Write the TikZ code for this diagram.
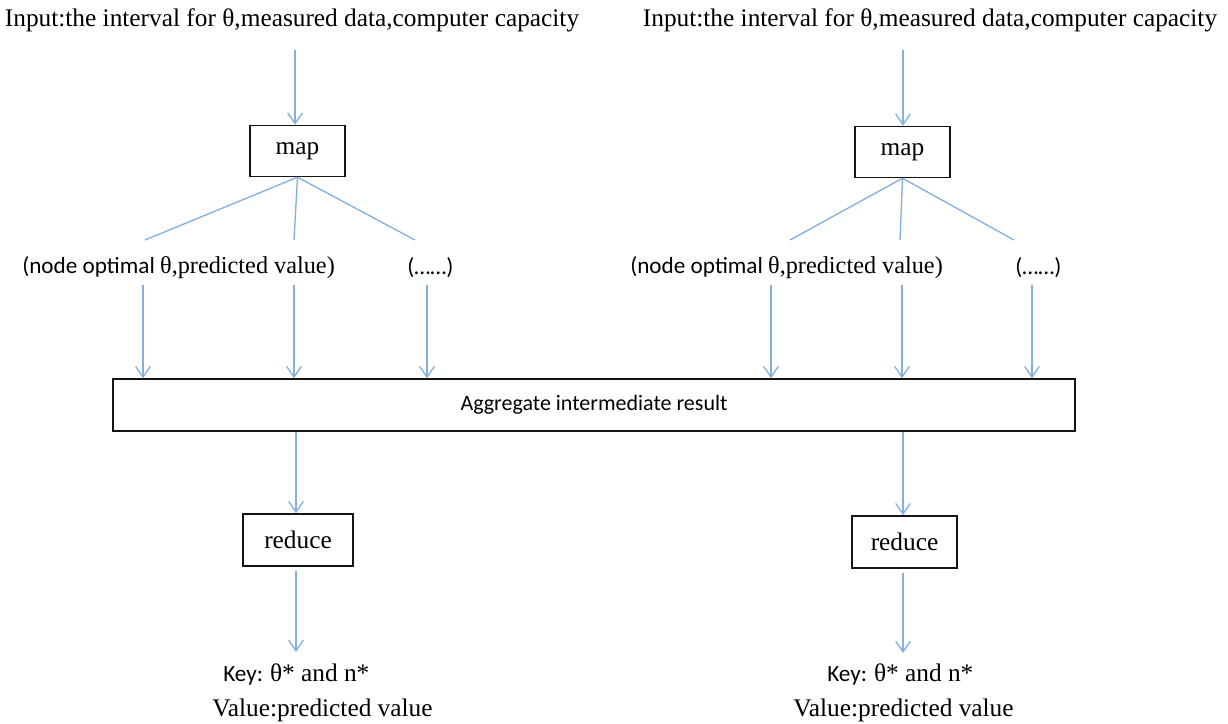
\documentclass[tikz,border=0pt]{standalone}
\usepackage{fontspec}
\setmainfont{Liberation Serif}
\newfontfamily\calfnt{Carlito}
\usetikzlibrary{arrows.meta}
\definecolor{lblue}{RGB}{131,176,222}
\definecolor{boxline}{RGB}{20,20,20}
\newcommand\sanspart{\calfnt\fontsize{17.4}{20}\selectfont}
\newcommand\serifpart{\rmfamily\fontsize{18.2}{21}\selectfont}
\begin{document}
\begin{tikzpicture}[x=0.75pt,y=-0.75pt,
  box/.style={draw=boxline,line width=1.1pt,fill=white,inner sep=0pt,font=\fontsize{19}{22}\selectfont},
  txt/.style={inner sep=0pt,font=\fontsize{19}{22}\selectfont},
  conn/.style={draw=lblue,line width=1pt},
  arr/.style={conn,-{Straight Barb[length=8pt,width=11pt,line width=1pt]}}]
\useasboundingbox (0,0) rectangle (1228,724);
\node[txt] (inL) at (292,20) {Input:the interval for θ,measured data,computer capacity};
\node[txt] (inR) at (930,20) {Input:the interval for θ,measured data,computer capacity};
\node[box,minimum width=71.25pt,minimum height=38.25pt] (mapL) at (297.5,151) {map};
\node[box,minimum width=71.25pt,minimum height=38.25pt] (mapR) at (902.5,152) {map};
\coordinate (inLb) at (295,50);
\coordinate (inRb) at (903,50);
\draw[arr] (inLb) -- (inLb |- mapL.north);
\draw[arr] (inRb) -- (inRb |- mapR.north);
\coordinate (fL1) at (145,240);
\coordinate (fL2) at (294,240);
\coordinate (fL3) at (415,240);
\coordinate (fR1) at (790,240);
\coordinate (fR2) at (900,240);
\coordinate (fR3) at (1014,240);
\draw[conn] (mapL.south) -- (fL1);
\draw[conn] (mapL.south) -- (fL2);
\draw[conn] (mapL.south) -- (fL3);
\draw[conn] (mapR.south) -- (fR1);
\draw[conn] (mapR.south) -- (fR2);
\draw[conn] (mapR.south) -- (fR3);
\node[txt,anchor=west] (labL) at (22,268) {{\sanspart (node optimal }{\serifpart θ,predicted value)}};
\node[txt,anchor=west,font=\sanspart] (dotL) at (407,268) {(……)};
\node[txt,anchor=west] (labR) at (630,268) {{\sanspart (node optimal }{\serifpart θ,predicted value)}};
\node[txt,anchor=west,font=\sanspart] (dotR) at (1015,268) {(……)};
\node[box,minimum width=721.5pt,minimum height=39pt,font=\calfnt\fontsize{16.5}{20}\selectfont] (agg) at (594,405) {Aggregate intermediate result};
\coordinate (aL1) at (143,285);
\coordinate (aL2) at (294,285);
\coordinate (aL3) at (427,285);
\coordinate (aR1) at (771,285);
\coordinate (aR2) at (902,285);
\coordinate (aR3) at (1032,285);
\foreach \c in {aL1,aL2,aL3,aR1,aR2,aR3}
  \draw[arr] (\c) -- (\c |- agg.north);
\node[box,minimum width=82.5pt,minimum height=39pt] (redL) at (298,540) {reduce};
\node[box,minimum width=78.75pt,minimum height=39pt] (redR) at (904.5,542) {reduce};
\coordinate (gL) at (296,431);
\coordinate (gR) at (903,431);
\draw[arr] (gL |- agg.south) -- (gL |- redL.north);
\draw[arr] (gR |- agg.south) -- (gR |- redR.north);
\coordinate (oL) at (296,652);
\coordinate (oR) at (903,653);
\draw[arr] (redL.south -| oL) ++(0,4) -- (oL);
\draw[arr] (redR.south -| oR) ++(0,4) -- (oR);
\node[txt,anchor=west] (keyL) at (223,675) {{\sanspart Key: }θ* and n*};
\node[txt] (valL) at (322.5,710) {Value:predicted value};
\node[txt,anchor=west] (keyR) at (827,675) {{\sanspart Key: }θ* and n*};
\node[txt] (valR) at (903.5,710) {Value:predicted value};
\end{tikzpicture}
\end{document}
